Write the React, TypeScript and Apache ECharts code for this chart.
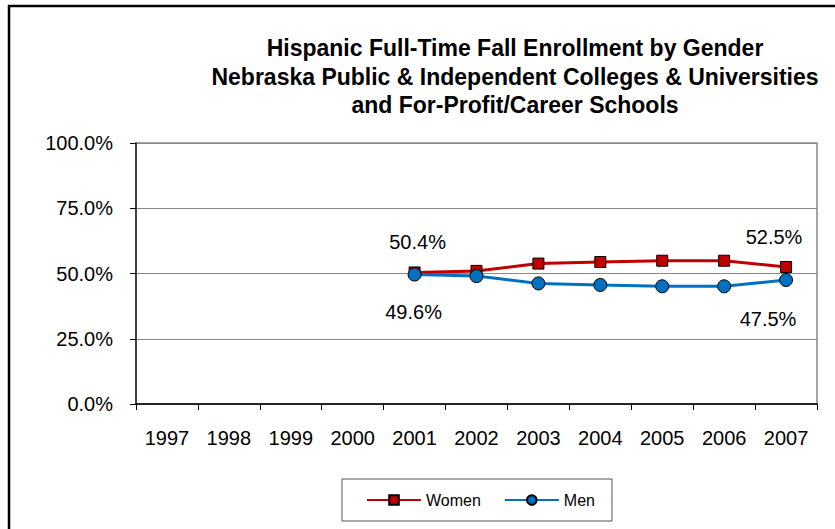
import React, { useEffect, useRef } from "react";
import * as echarts from "echarts";

const years = ["1997", "1998", "1999", "2000", "2001", "2002", "2003", "2004", "2005", "2006", "2007"];
const women = [null, null, null, null, 50.4, 51.0, 53.8, 54.4, 54.9, 54.9, 52.5];
const men = [null, null, null, null, 49.6, 49.0, 46.2, 45.6, 45.1, 45.1, 47.5];
const yTicks = [0, 25, 50, 75, 100];
const titleLines = [
  "Hispanic Full-Time Fall Enrollment by Gender",
  "Nebraska Public & Independent Colleges & Universities",
  "and For-Profit/Career Schools",
];

const FONT = "'Liberation Sans', Arial, sans-serif";

function withLabels(values: (number | null)[], offsets: Record<number, [number, number]>) {
  return values.map((v, i) => {
    if (v === null) return null;
    const off = offsets[i];
    if (!off) return v;
    return {
      value: v,
      label: {
        show: true,
        position: "inside",
        offset: off,
        formatter: (p: any) => `${Number(p.value).toFixed(1)}%`,
        color: "#000",
        fontSize: 20,
        fontFamily: FONT,
      },
    };
  });
}

export default function App() {
  const ref = useRef<HTMLDivElement>(null);
  useEffect(() => {
    if (!ref.current) return;
    const chart = echarts.init(ref.current, undefined, { renderer: "svg" });
    chart.setOption({
      animation: false,
      backgroundColor: "#fff",
      title: {
        text: titleLines.join("\n"),
        left: 510,
        top: 29,
        textAlign: "center",
        textStyle: {
          fontFamily: FONT,
          fontSize: 23,
          fontWeight: "bold",
          lineHeight: 28.5,
          color: "#000",
        },
      },
      graphic: [
        {
          type: "rect",
          shape: { x: 9, y: 6, width: 900, height: 600 },
          style: { fill: "none", stroke: "#000", lineWidth: 2.5 },
          silent: true,
        },
      ],
      grid: {
        left: 136,
        right: 18,
        top: 143,
        bottom: 125,
        show: true,
        borderColor: "#888",
        borderWidth: 1.5,
      },
      legend: {
        left: 342,
        top: 479,
        padding: [13, 17, 13, 24],
        itemGap: 23,
        itemWidth: 54,
        itemHeight: 12,
        borderColor: "#555",
        borderWidth: 1,
        textStyle: { fontFamily: FONT, fontSize: 16, color: "#000" },
        data: ["Women", "Men"],
      },
      xAxis: {
        type: "category",
        data: years,
        boundaryGap: true,
        axisLine: { lineStyle: { color: "#000", width: 1.5 } },
        axisTick: { show: true, length: 6, lineStyle: { color: "#000" } },
        axisLabel: { fontFamily: FONT, fontSize: 20, color: "#000", margin: 24 },
        splitLine: { show: false },
      },
      yAxis: {
        type: "value",
        min: yTicks[0],
        max: yTicks[yTicks.length - 1],
        interval: 25,
        axisLine: { show: true, lineStyle: { color: "#222", width: 1.5 } },
        axisTick: { show: true, length: 6, lineStyle: { color: "#000" } },
        axisLabel: {
          fontFamily: FONT,
          fontSize: 20,
          color: "#000",
          margin: 23,
          formatter: (v: number) => `${v.toFixed(1)}%`,
        },
        splitLine: { show: true, lineStyle: { color: "#888", width: 1 } },
      },
      series: [
        {
          name: "Women",
          type: "line",
          data: withLabels(women, { 4: [3, -30], 10: [-12, -30] }),
          symbol: "rect",
          symbolSize: 11,
          lineStyle: { color: "#C00000", width: 3 },
          itemStyle: { color: "#C00000", borderColor: "#000", borderWidth: 1 },
          z: 3,
        },
        {
          name: "Men",
          type: "line",
          data: withLabels(men, { 4: [-1, 37], 10: [-18, 39] }),
          symbol: "circle",
          symbolSize: 13,
          lineStyle: { color: "#0070C0", width: 3 },
          itemStyle: { color: "#0070C0", borderColor: "#000", borderWidth: 1 },
          z: 4,
        },
      ],
    });
    return () => chart.dispose();
  }, []);
  return (
    <div
      ref={ref}
      style={{ position: "absolute", left: 0, top: 0, width: 835, height: 529 }}
    />
  );
}
